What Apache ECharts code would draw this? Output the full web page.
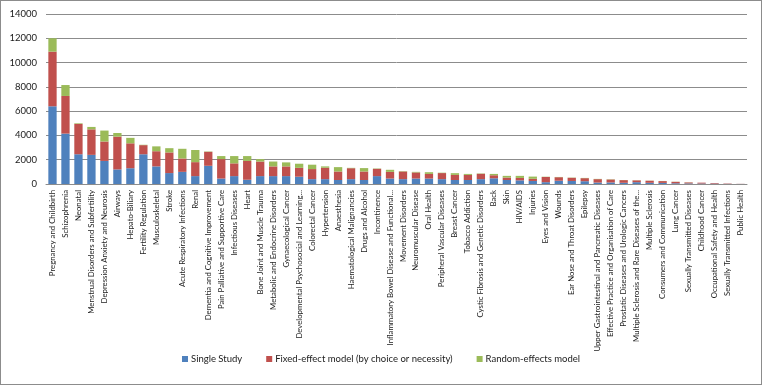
<!DOCTYPE html>
<html>
<head>
<meta charset="utf-8">
<script src="https://cdn.jsdelivr.net/npm/echarts@6/dist/echarts.min.js"></script>
<style>
  html, body { margin: 0; padding: 0; background: #fff; }
  #chart { width: 762px; height: 385px; box-sizing: border-box; border: 1px solid #8c8c8c; }
</style>
</head>
<body>
<div id="chart"></div>
<script>
const categories = [
  'Pregnancy and Childbirth', 'Schizophrenia', 'Neonatal', 'Menstrual Disorders and Subfertility',
  'Depression Anxiety and Neurosis', 'Airways', 'Hepato-Biliary', 'Fertility Regulation',
  'Musculoskeletal', 'Stroke', 'Acute Respiratory Infections', 'Renal',
  'Dementia and Cognitive Improvement', 'Pain Palliative and Supportive Care', 'Infectious Diseases', 'Heart',
  'Bone Joint and Muscle Trauma', 'Metabolic and Endocrine Disorders', 'Gynaecological Cancer',
  'Developmental Psychosocial and Learning...', 'Colorectal Cancer', 'Hypertension', 'Anaesthesia',
  'Haematological Malignancies', 'Drugs and Alcohol', 'Incontinence',
  'Inflammatory Bowel Disease and Functional...', 'Movement Disorders', 'Neuromuscular Disease',
  'Oral Health', 'Peripheral Vascular Diseases', 'Breast Cancer', 'Tobacco Addiction',
  'Cystic Fibrosis and Genetic Disorders', 'Back', 'Skin', 'HIV/AIDS', 'Injuries', 'Eyes and Vision',
  'Wounds', 'Ear Nose and Throat Disorders', 'Epilepsy', 'Upper Gastrointestinal and Pancreatic Diseases',
  'Effective Practice and Organisation of Care', 'Prostatic Diseases and Urologic Cancers',
  'Multiple Sclerosis and Rare Diseases of the...', 'Multiple Sclerosis', 'Consumers and Communication',
  'Lung Cancer', 'Sexually Transmitted Diseases', 'Childhood Cancer', 'Occupational Safety and Health',
  'Sexually Transmitted Infections', 'Public Health'
];

const singleStudy = [
  6400, 4150, 2450, 2400, 1900, 1200, 1300, 2450, 1450, 900, 1000, 650,
  1500, 450, 650, 350, 650, 650, 650, 600, 400, 400, 330, 400, 330, 650,
  450, 400, 450, 450, 400, 330, 330, 400, 470, 330, 300, 250, 150, 270,
  250, 230, 120, 130, 100, 150, 100, 90, 60, 50, 40, 30, 10, 5
];
const fixedEffect = [
  4500, 3100, 2500, 2100, 1600, 2700, 2050, 750, 1250, 1700, 1100, 1150,
  1150, 1600, 1050, 1550, 1200, 800, 800, 730, 830, 940, 700, 900, 700, 600,
  550, 630, 500, 380, 500, 420, 420, 440, 250, 200, 200, 180, 430, 290,
  260, 250, 280, 240, 220, 150, 170, 150, 120, 80, 70, 50, 30, 10
];
const randomEffects = [
  1100, 900, 50, 200, 900, 300, 450, 30, 400, 350, 800, 1000,
  30, 250, 600, 400, 200, 400, 330, 340, 360, 110, 360, 30, 280, 30,
  170, 30, 50, 140, 30, 140, 80, 30, 110, 140, 170, 180, 20, 20,
  20, 20, 20, 20, 10, 10, 10, 10, 10, 10, 0, 0, 0, 0
];
const yTicks = { min: 0, max: 14000, interval: 2000 };

const font = "Lato, 'Liberation Sans', sans-serif";
const chart = echarts.init(document.getElementById('chart'), null, { renderer: 'canvas' });

function barSeries(name, data, color) {
  return {
    name: name,
    type: 'bar',
    stack: 'total',
    data: data,
    barWidth: '64%',
    itemStyle: { color: color },
    emphasis: { disabled: true }
  };
}

chart.setOption({
  animation: false,
  textStyle: { fontFamily: font },
  grid: { left: 45, right: 14, top: 13, bottom: 200, containLabel: false },
  legend: {
    bottom: 15,
    left: 'center',
    itemWidth: 6,
    itemHeight: 6,
    itemGap: 24,
    icon: 'rect',
    textStyle: { fontFamily: font, fontSize: 9.5, color: '#1a1a1a', padding: [0, 0, 0, -2] },
    data: ['Single Study', 'Fixed-effect model (by choice or necessity)', 'Random-effects model']
  },
  xAxis: {
    type: 'category',
    data: categories,
    axisLine: { lineStyle: { color: '#8c8c8c' } },
    axisTick: { show: false },
    axisLabel: {
      interval: 0,
      rotate: 90,
      fontSize: 7.8,
      fontFamily: font,
      color: '#1a1a1a',
      margin: 6
    }
  },
  yAxis: {
    type: 'value',
    min: yTicks.min,
    max: yTicks.max,
    interval: yTicks.interval,
    axisLine: { show: false },
    axisTick: { show: false },
    axisLabel: {
      fontSize: 9.5, fontFamily: font, color: '#1a1a1a', margin: 9,
      formatter: function (v) { return String(v); }
    },
    splitLine: { lineStyle: { color: '#8c8c8c', width: 1 } }
  },
  series: [
    barSeries('Single Study', singleStudy, '#4F81BD'),
    barSeries('Fixed-effect model (by choice or necessity)', fixedEffect, '#C0504D'),
    barSeries('Random-effects model', randomEffects, '#9BBB59')
  ]
});
</script>
</body>
</html>
